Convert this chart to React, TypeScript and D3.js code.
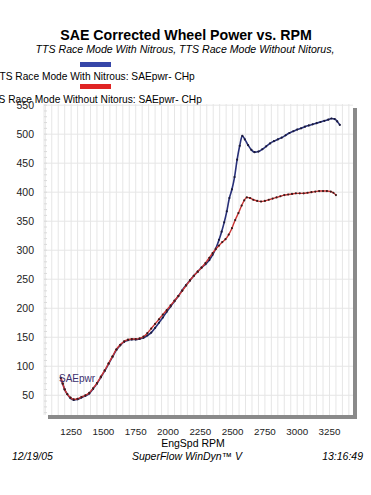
import * as d3 from 'd3'

// SAE corrected wheel power, with nitrous (blue)
const nitrousRpm = [1170, 1185, 1200, 1220, 1245, 1270, 1300, 1330, 1360, 1390, 1420, 1450, 1480, 1510, 1540, 1570, 1600, 1630, 1660, 1690, 1720, 1750, 1780, 1810, 1840, 1870, 1900, 1930, 1960, 1990, 2020, 2050, 2080, 2110, 2140, 2170, 2200, 2230, 2260, 2290, 2320, 2345, 2370, 2395, 2415, 2435, 2455, 2475, 2495, 2515, 2535, 2555, 2575, 2595, 2620, 2645, 2670, 2700, 2730, 2760, 2790, 2820, 2850, 2880, 2910, 2940, 2970, 3000, 3030, 3060, 3090, 3120, 3150, 3180, 3210, 3240, 3265, 3290, 3310, 3330]
const nitrousHp = [80, 70, 60, 52, 45, 42, 43, 46, 49, 53, 61, 70, 81, 92, 104, 116, 128, 136, 142, 145, 146, 146, 147, 149, 153, 158, 166, 175, 184, 194, 203, 212, 221, 231, 240, 248, 256, 263, 270, 276, 283, 292, 303, 318, 332, 348, 367, 390, 405, 426, 456, 480, 497, 491, 481, 473, 469, 470, 474, 479, 484, 488, 491, 494, 498, 502, 505, 508, 510, 513, 515, 517, 519, 521, 523, 525, 527, 526, 522, 516]

// without nitrous (red)
const stockRpm = [1170, 1185, 1200, 1220, 1245, 1270, 1300, 1330, 1360, 1390, 1420, 1450, 1480, 1510, 1540, 1570, 1600, 1630, 1660, 1690, 1720, 1750, 1780, 1810, 1840, 1870, 1900, 1930, 1960, 1990, 2020, 2050, 2080, 2110, 2140, 2170, 2200, 2230, 2260, 2290, 2320, 2345, 2370, 2395, 2420, 2445, 2470, 2495, 2520, 2545, 2570, 2590, 2610, 2635, 2660, 2690, 2720, 2750, 2780, 2810, 2840, 2870, 2900, 2930, 2960, 2990, 3020, 3050, 3080, 3110, 3140, 3170, 3200, 3230, 3260, 3280, 3300]
const stockHp = [80, 70, 60, 52, 46, 43, 44, 47, 50, 54, 62, 71, 82, 93, 105, 117, 129, 137, 143, 146, 147, 147, 148, 151, 157, 165, 173, 181, 189, 197, 205, 213, 221, 230, 239, 248, 256, 263, 270, 278, 287, 295, 302, 308, 314, 319, 327, 338, 352, 364, 377, 386, 391, 390, 387, 385, 384, 385, 387, 389, 391, 393, 395, 396, 397, 398, 398, 398, 399, 400, 401, 402, 402, 402, 401, 399, 395]

const xTicks = [1250, 1500, 1750, 2000, 2250, 2500, 2750, 3000, 3250]
const yTicks = [50, 100, 150, 200, 250, 300, 350, 400, 450, 500, 550]
const legendLabels = ['TTS Race Mode With Nitrous: SAEpwr- CHp', 'TTS Race Mode Without Nitorus: SAEpwr- CHp']

const font = 'Liberation Sans, Arial, sans-serif'

export default function App() {
  const width = 371, height = 495
  const x = d3.scaleLinear().domain([1040, 3432]).range([44, 353])
  const y = d3.scaleLinear().domain([16, 552]).range([415, 104])

  const vGrid = d3.range(1050, 3432, 50)
  const hMinor = d3.range(20, 551, 10)

  const line = d3.line<[number, number]>()
    .x(d => x(d[0]))
    .y(d => y(d[1]))
    .curve(d3.curveMonotoneX)

  const blue: [number, number][] = nitrousRpm.map((r, i) => [r, nitrousHp[i]])
  const red: [number, number][] = stockRpm.map((r, i) => [r, stockHp[i]])

  const [x0, x1] = x.range()
  const [y0, y1] = y.range()

  return (
    <svg width={width} height={height} style={{ position: 'absolute', left: 0, top: 0, background: '#fff' }} fontFamily={font}>
      {/* titles */}
      <text x={186} y={40} textAnchor="middle" fontSize={14.2} fontWeight="bold">SAE Corrected Wheel Power vs. RPM</text>
      <text x={185} y={53} textAnchor="middle" fontSize={10.6} fontStyle="italic">TTS Race Mode With Nitrous, TTS Race Mode Without Nitorus,</text>

      {/* legend (the labels run off the left edge, as in the original) */}
      <rect x={80} y={62} width={31} height={5} fill="#3646a8" />
      <text x={94} y={80} textAnchor="middle" fontSize={10.2}>{legendLabels[0]}</text>
      <rect x={80} y={84} width={31} height={5} fill="#e02424" />
      <text x={94} y={103} textAnchor="middle" fontSize={10.2}>{legendLabels[1]}</text>

      {/* shadow of the plot frame */}
      <rect x={x0 + 4} y={y0} width={x1 - x0} height={4} fill="#8a8a8a" />
      <rect x={x1} y={y1 + 4} width={4} height={y0 - y1} fill="#8a8a8a" />

      {/* grid */}
      <g stroke="#e6e6e6" strokeWidth={1}>
        <line x1={x0} x2={x0} y1={y1} y2={y0} />
        {vGrid.map(v => <line key={'v' + v} x1={x(v)} x2={x(v)} y1={y1} y2={y0} />)}
        {yTicks.map(v => <line key={'h' + v} x1={x0} x2={x1} y1={y(v)} y2={y(v)} />)}
      </g>
      <g stroke="#dadada" strokeWidth={1}>
        {hMinor.map(v => <line key={'m' + v} x1={x0} x2={x0 + 3} y1={y(v)} y2={y(v)} />)}
      </g>

      {/* y tick labels */}
      <g fontSize={10.5} textAnchor="end" fill="#222">
        {yTicks.map(v => <text key={v} x={34} y={y(v) + 3.5}>{v}</text>)}
      </g>

      {/* x tick labels */}
      <g fontSize={9.8} textAnchor="middle" fill="#222">
        {xTicks.map(v => <text key={v} x={x(v)} y={435}>{v}</text>)}
      </g>
      <text x={193} y={447} textAnchor="middle" fontSize={10.5}>EngSpd  RPM</text>

      {/* footer */}
      <text x={12} y={460} fontSize={10.5} fontStyle="italic">12/19/05</text>
      <text x={187} y={460} textAnchor="middle" fontSize={10.5} fontStyle="italic">SuperFlow WinDyn™ V</text>
      <text x={363} y={460} textAnchor="end" fontSize={10.5} fontStyle="italic">13:16:49</text>

      {/* series */}
      <path d={line(blue) ?? ''} fill="none" stroke="#283079" strokeWidth={1.6} />
      {blue.map((d, i) => <circle key={'b' + i} cx={x(d[0])} cy={y(d[1])} r={1.1} fill="#1a1a3a" />)}
      <path d={line(red) ?? ''} fill="none" stroke="#cc3333" strokeWidth={1.4} />
      {red.map((d, i) => <circle key={'r' + i} cx={x(d[0])} cy={y(d[1])} r={1.1} fill="#3a1a1a" />)}

      <text x={59} y={382} fontSize={10} fill="#3b2f6e">SAEpwr</text>
    </svg>
  )
}
